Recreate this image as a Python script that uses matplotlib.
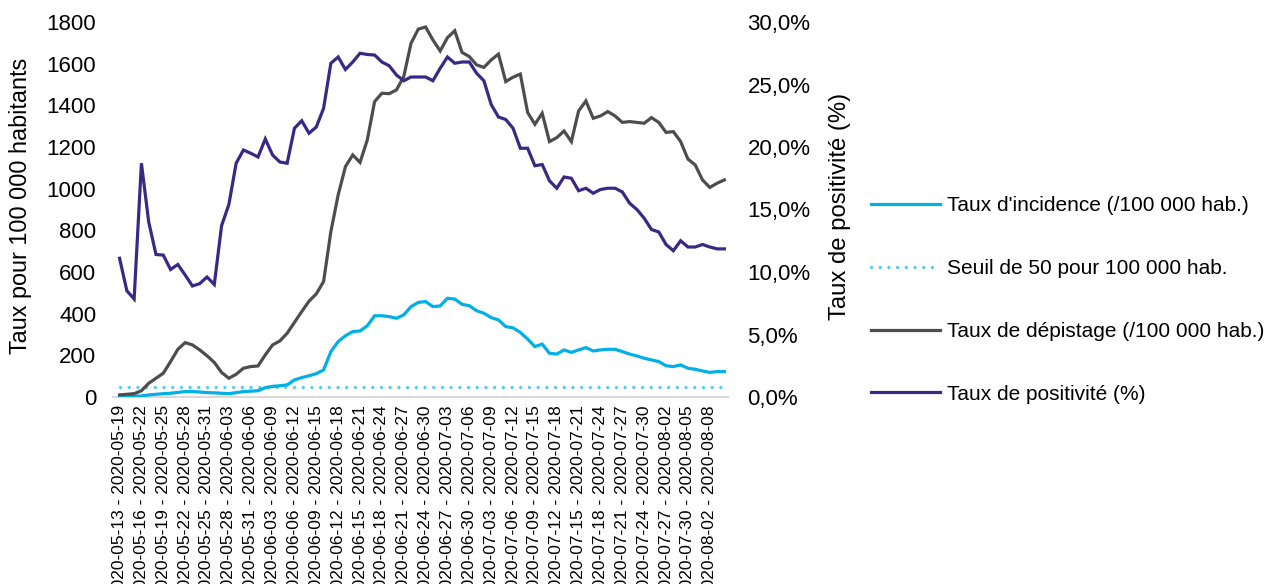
import matplotlib
matplotlib.use("Agg")
import matplotlib.pyplot as plt
from matplotlib.ticker import FuncFormatter

tick_labels = [
    "2020-05-13 - 2020-05-19", "2020-05-16 - 2020-05-22", "2020-05-19 - 2020-05-25",
    "2020-05-22 - 2020-05-28", "2020-05-25 - 2020-05-31", "2020-05-28 - 2020-06-03",
    "2020-05-31 - 2020-06-06", "2020-06-03 - 2020-06-09", "2020-06-06 - 2020-06-12",
    "2020-06-09 - 2020-06-15", "2020-06-12 - 2020-06-18", "2020-06-15 - 2020-06-21",
    "2020-06-18 - 2020-06-24", "2020-06-21 - 2020-06-27", "2020-06-24 - 2020-06-30",
    "2020-06-27 - 2020-07-03", "2020-06-30 - 2020-07-06", "2020-07-03 - 2020-07-09",
    "2020-07-06 - 2020-07-12", "2020-07-09 - 2020-07-15", "2020-07-12 - 2020-07-18",
    "2020-07-15 - 2020-07-21", "2020-07-18 - 2020-07-24", "2020-07-21 - 2020-07-27",
    "2020-07-24 - 2020-07-30", "2020-07-27 - 2020-08-02", "2020-07-30 - 2020-08-05",
    "2020-08-02 - 2020-08-08",
]

incidence = [2, 2, 4, 5, 10, 13, 16, 18, 22, 26,
             26, 24, 21, 20, 18, 16, 21, 26, 28, 30,
             45, 51, 54, 58, 82, 93, 102, 112, 130, 218,
             266, 294, 314, 317, 342, 390, 390, 386, 378, 394,
             434, 454, 458, 434, 437, 474, 470, 445, 438, 414,
             402, 381, 370, 338, 332, 310, 278, 242, 254, 210,
             206, 226, 214, 226, 237, 221, 226, 229, 229, 218,
             206, 197, 186, 178, 170, 150, 146, 154, 138, 133,
             125, 118, 122, 122]

seuil = 50

depistage = [10, 13, 16, 30, 66, 90, 114, 170, 229, 261,
             250, 226, 198, 166, 118, 90, 109, 138, 146, 149,
             202, 250, 269, 306, 358, 410, 460, 495, 554, 794,
             970, 1106, 1162, 1126, 1234, 1418, 1458, 1456, 1474, 1538,
             1698, 1766, 1776, 1714, 1661, 1725, 1758, 1654, 1634, 1594,
             1582, 1618, 1646, 1514, 1535, 1550, 1366, 1309, 1362, 1226,
             1245, 1277, 1226, 1373, 1421, 1338, 1349, 1370, 1349, 1318,
             1322, 1318, 1314, 1341, 1318, 1270, 1274, 1226, 1142, 1114,
             1042, 1006, 1026, 1042]

positivite = [11.1, 8.5, 7.84, 18.7, 14.0, 11.4, 11.35, 10.2, 10.6, 9.76,
              8.88, 9.07, 9.6, 9.0, 13.7, 15.4, 18.7, 19.76, 19.5, 19.2,
              20.64, 19.36, 18.8, 18.7, 21.5, 22.1, 21.1, 21.6, 23.1, 26.7,
              27.2, 26.2, 26.8, 27.5, 27.4, 27.36, 26.8, 26.5, 25.76, 25.3,
              25.6, 25.6, 25.6, 25.3, 26.3, 27.2, 26.7, 26.8, 26.8, 25.9,
              25.3, 23.4, 22.4, 22.2, 21.5, 19.9, 19.9, 18.5, 18.6, 17.3,
              16.7, 17.6, 17.5, 16.5, 16.7, 16.3, 16.6, 16.7, 16.7, 16.4,
              15.5, 15.0, 14.3, 13.4, 13.2, 12.2, 11.7, 12.5, 12.0, 12.0,
              12.2, 12.0, 11.85, 11.85]

legend_labels = ["Taux d'incidence (/100 000 hab.)", "Seuil de 50 pour 100 000 hab.",
                 "Taux de dépistage (/100 000 hab.)", "Taux de positivité (%)"]

plt.rcParams['font.family'] = ['Liberation Sans', 'DejaVu Sans']

W, H = 1279, 584
fig = plt.figure(figsize=(W / 100, H / 100), dpi=100)
left_px, right_px, top_px, bot_px = 113, 728, 22, 397
ax = fig.add_axes([left_px / W, 1 - bot_px / H, (right_px - left_px) / W, (bot_px - top_px) / H])
ax2 = ax.twinx()

n = len(incidence)
x = list(range(n))

c_inc = "#00B0E6"
c_seuil = "#55CCF5"
c_dep = "#4D4D4D"
c_pos = "#3A2885"
lw = 2.3

l1, = ax.plot(x, incidence, color=c_inc, lw=lw, solid_joinstyle='miter', zorder=3)
l2, = ax.plot(x, [seuil] * n, color=c_seuil, lw=2.4, linestyle=(0, (0.01, 2.6)),
              dash_capstyle='round', zorder=2)
l3, = ax.plot(x, depistage, color=c_dep, lw=lw, solid_joinstyle='miter', zorder=3)
l4, = ax2.plot(x, positivite, color=c_pos, lw=lw, solid_joinstyle='miter', zorder=3)

ax.set_xlim(-0.9, n - 0.5)
ax.set_ylim(0, 1800)
ax2.set_ylim(0, 30)
ax.set_yticks(range(0, 1801, 200))
ax2.set_yticks(range(0, 31, 5))
ax2.yaxis.set_major_formatter(FuncFormatter(lambda v, p: f"{v:.1f}%".replace(".", ",")))

ax.set_xticks(list(range(0, 3 * len(tick_labels), 3)))
ax.set_xticklabels(tick_labels, rotation=90, fontsize=12.5, va='top', ha='center')

for a in (ax, ax2):
    for s in a.spines.values():
        s.set_visible(False)
    a.tick_params(length=0)
ax.spines['bottom'].set_visible(True)
ax.spines['bottom'].set_color("#D9D9D9")
ax.spines['bottom'].set_linewidth(1.5)
ax.tick_params(axis='y', labelsize=16, pad=12)
ax.tick_params(axis='x', pad=6)
ax2.tick_params(axis='y', labelsize=16, pad=14)

fig.text(21 / W, 1 - 206 / H, "Taux pour 100 000 habitants", rotation=90,
         ha='center', va='center', fontsize=16.8)
fig.text(840 / W, 1 - 206 / H, "Taux de positivité (%)", rotation=90,
         ha='center', va='center', fontsize=17.2)

fig.legend([l1, l2, l3, l4], legend_labels, loc='upper left',
           bbox_to_anchor=(861 / W, 1 - 186 / H), frameon=False, fontsize=15,
           handlelength=3.27, handletextpad=0.34, labelspacing=2.1, borderpad=0)

fig.savefig("out.png", dpi=100)
